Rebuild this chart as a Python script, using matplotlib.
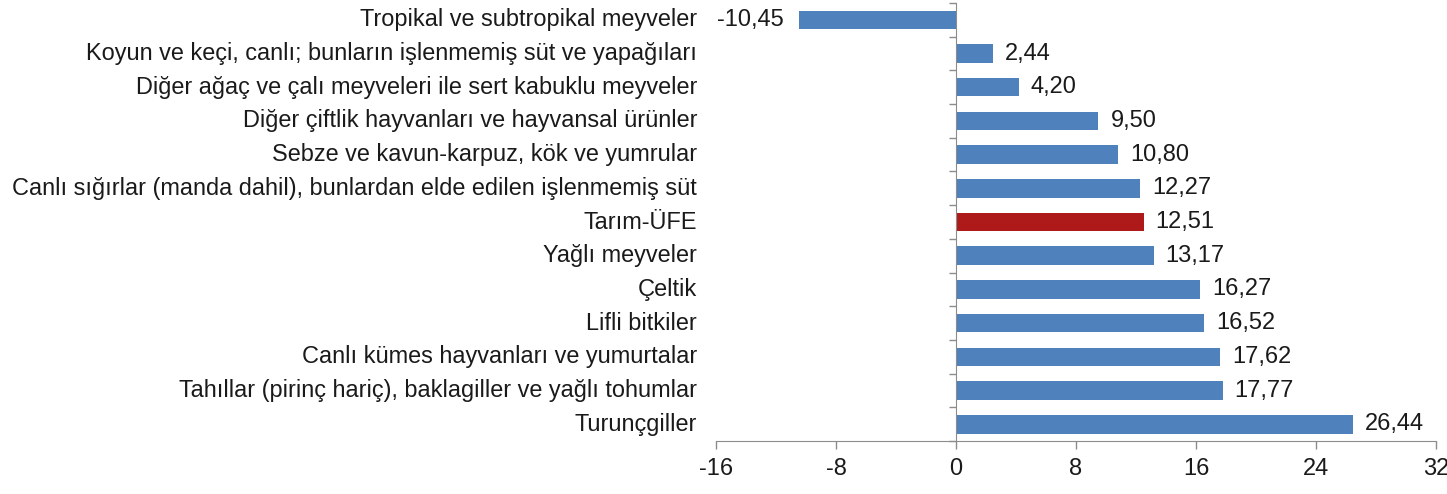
import numpy as np
import matplotlib.pyplot as plt
from matplotlib.ticker import FixedLocator

plt.rcParams['font.family'] = ['Liberation Sans', 'DejaVu Sans']

categories = [
    "Tropikal ve subtropikal meyveler",
    "Koyun ve keçi, canlı; bunların işlenmemiş süt ve yapağıları",
    "Diğer ağaç ve çalı meyveleri ile sert kabuklu meyveler",
    "Diğer çiftlik hayvanları ve hayvansal ürünler",
    "Sebze ve kavun-karpuz, kök ve yumrular",
    "Canlı sığırlar (manda dahil), bunlardan elde edilen işlenmemiş süt",
    "Tarım-ÜFE",
    "Yağlı meyveler",
    "Çeltik",
    "Lifli bitkiler",
    "Canlı kümes hayvanları ve yumurtalar",
    "Tahıllar (pirinç hariç), baklagiller ve yağlı tohumlar",
    "Turunçgiller",
]
values = [-10.45, 2.44, 4.20, 9.50, 10.80, 12.27, 12.51, 13.17, 16.27, 16.52, 17.62, 17.77, 26.44]
x_ticks = [-16, -8, 0, 8, 16, 24, 32]
highlight = "Tarım-ÜFE"

blue = '#4F81BD'
red = '#AE1A1A'
grey = '#8C8C8C'
txt = '#1a1a1a'

fig = plt.figure(figsize=(14.47, 4.94), dpi=100)
ax = fig.add_axes([0.4948, 0.107, 0.4976, 0.887])

y = np.arange(len(categories))
colors = [red if c == highlight else blue for c in categories]
ax.barh(y, values, height=0.55, color=colors, zorder=2)

for yi, v in zip(y, values):
    label = f"{v:.2f}".replace('.', ',')
    if v < 0:
        ax.text(v - 1.0, yi, label, ha='right', va='center', fontsize=17, color=txt)
    else:
        ax.text(v + 0.8, yi, label, ha='left', va='center', fontsize=17, color=txt)

ax.set_xlim(-16, 32)
ax.set_ylim(len(categories) - 0.5, -0.5)
ax.set_xticks(x_ticks)
ax.set_xticklabels([str(t) for t in x_ticks], fontsize=17, color=txt)

# category labels at the far left, ticks at the zero line between categories
ax.set_yticks([])
for yi, c in zip(y, categories):
    ax.text(-16 - 1.25, yi, c, ha='right', va='center', fontsize=16.9, color=txt)
ax.yaxis.set_minor_locator(FixedLocator(np.arange(-0.5, len(categories), 1.0)))
ax.tick_params(axis='y', which='minor', length=5, color=grey, width=1)
ax.tick_params(axis='x', length=6, color=grey, width=1, pad=6)

ax.spines['left'].set_position(('data', 0))
ax.spines['left'].set_color(grey)
ax.spines['bottom'].set_color(grey)
ax.spines['top'].set_visible(False)
ax.spines['right'].set_visible(False)

fig.savefig('out.png', dpi=100)
